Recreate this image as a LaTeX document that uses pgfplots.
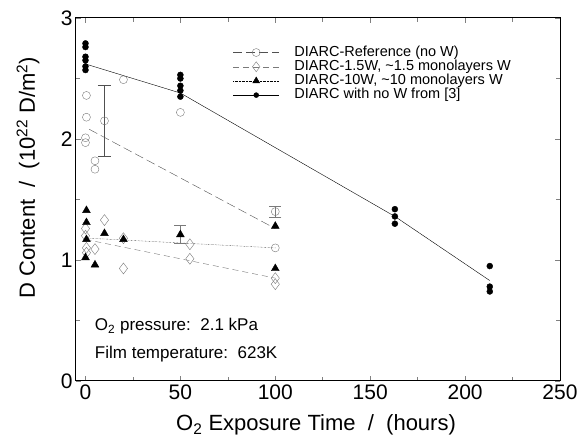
\documentclass[border=0pt]{standalone}
\usepackage{fontspec}
\setmainfont{Liberation Sans}
\usepackage{pgfplots}
\pgfplotsset{compat=1.18}
\definecolor{ptgray}{HTML}{7A7A7A}
\definecolor{ptdark}{HTML}{505050}
\newcommand\lgf{\fontsize{14.5}{15}\selectfont}

\begin{document}
\begin{tikzpicture}
\begin{axis}[
  width=484pt, height=363pt, scale only axis,
  xmin=-5, xmax=250, ymin=0, ymax=3,
  xtick={0,50,...,250}, ytick={0,1,2,3},
  minor xtick={25,75,...,225}, minor ytick={0.5,1.5,2.5},
  tick align=inside,
  major tick length=5pt, minor tick length=4pt,
  tick style={gray, line width=0.5pt},
  axis line style={line width=1pt},
  /pgf/number format/assume math mode=true,
  ticklabel style={font=\fontsize{21}{24}\selectfont},
  xlabel={O\textsubscript{2} Exposure Time \ / \ (hours)},
  ylabel={D Content \ / \ (10\textsuperscript{22} D/m\textsuperscript{2})},
  label style={font=\fontsize{22}{26}\selectfont},
  xlabel style={at={(axis description cs:0.496,-0.121)}, anchor=center},
  ylabel style={at={(axis description cs:-0.099,0.56)}, anchor=center},
  legend style={at={(0.324,0.925)}, anchor=north west, draw=none, fill=none,
    inner sep=0pt, row sep=0pt, font=\lgf,
    nodes={inner sep=0pt, text height=10.6pt, text depth=3.6pt}},
  legend cell align=left,
  legend image code/.code={\draw[mark repeat=2,mark phase=2,#1] plot coordinates {(0pt,0pt) (23pt,0pt) (46pt,0pt)};
    \path (61pt,0pt);},
]
% legend samples
\addlegendimage{ptdark, dash pattern=on 9pt off 4pt, mark=o, mark size=4pt, mark options={solid, ptgray}}
\addlegendimage{ptgray, dash pattern=on 6pt off 4pt, mark=diamond, mark size=5pt, mark options={solid}}
\addlegendimage{black, densely dotted, mark=triangle*, mark size=4pt, mark options={solid}}
\addlegendimage{black, thin, mark=*, mark size=2.5pt}
\legend{{\lgf DIARC-Reference (no W)}, {\lgf DIARC-1.5W, \textasciitilde 1.5 monolayers W}, {\lgf DIARC-10W, \textasciitilde 10 monolayers W}, {\lgf DIARC with no W from [3]}}

% fitted lines
\addplot[forget plot, ptdark, dash pattern=on 9pt off 4pt] coordinates {(2,2.08) (100,1.26)};
\addplot[forget plot, ptgray, dash pattern=on 6pt off 4pt] coordinates {(0,1.17) (100,0.85)};
\addplot[forget plot, black, densely dotted] coordinates {(2,1.18) (100,1.10)};
\addplot[forget plot, black, thin] coordinates {(0,2.62) (50,2.38) (163,1.36) (213,0.83)};

% DIARC-Reference (no W)
\addplot[forget plot, only marks, mark=o, mark size=4pt, ptgray] coordinates {
  (0.5,2.36) (0.5,2.18) (0,2.01) (0,1.97) (5,1.82) (5,1.75)
  (10,2.15) (20,2.49) (50,2.22) (100,1.40) (100,1.10)};
% DIARC-1.5W
\addplot[forget plot, only marks, mark=diamond, mark size=5.5pt, ptgray] coordinates {
  (0,1.26) (0,1.20) (0.5,1.10) (0.5,1.06) (5,1.09) (10,1.33)
  (20,1.18) (20,0.93) (55,1.13) (55,1.01) (100,0.85) (100,0.80)};
% DIARC-10W
\addplot[forget plot, only marks, mark=triangle*, mark size=4.5pt, black] coordinates {
  (0.5,1.41) (0.5,1.31) (0.5,1.17) (0,1.02) (5,0.96) (10,1.22)
  (20,1.17) (50,1.21) (100,1.28) (100,0.93)};
% DIARC with no W from [3]
\addplot[forget plot, only marks, mark=*, mark size=3pt, black] coordinates {
  (0,2.79) (0,2.76) (0,2.68) (0,2.65) (0,2.60) (0,2.57)
  (50,2.53) (50,2.50) (50,2.44) (50,2.40) (50,2.35)
  (163,1.42) (163,1.36) (163,1.30)
  (213,0.95) (213,0.78) (213,0.74)};

% error bars
\addplot[forget plot, draw=none, no markers, error bars/.cd, y dir=both, y explicit,
  error bar style={draw=ptdark, line width=0.8pt}, error mark options={rotate=90, draw=ptdark, mark size=6.5pt, line width=0.8pt}]
  coordinates {(10,2.15) +- (0,0.29)};
\addplot[forget plot, draw=none, no markers, error bars/.cd, y dir=both, y explicit,
  error bar style={draw=ptgray, line width=0.8pt}, error mark options={rotate=90, draw=ptgray, mark size=6pt, line width=0.8pt}]
  coordinates {(100,1.395) +- (0,0.045)};
\addplot[forget plot, draw=none, no markers, error bars/.cd, y dir=both, y explicit,
  error bar style={draw=ptgray, line width=0.8pt}, error mark options={rotate=90, draw=ptgray, mark size=6pt, line width=0.8pt}]
  coordinates {(50,1.215) +- (0,0.075)};

\node[anchor=west, inner sep=0pt, font=\fontsize{17}{20}\selectfont] at (axis cs:4.9,0.45) {O\textsubscript{2} pressure:\ \ 2.1 kPa};
\node[anchor=west, inner sep=0pt, font=\fontsize{17}{20}\selectfont] at (axis cs:4.9,0.22) {Film temperature:\ \ 623K};

\coordinate (bl) at (rel axis cs:0,0);
\coordinate (tr) at (rel axis cs:1,1);
\end{axis}
\path ([shift={(-76pt,-55pt)}]bl) rectangle ([shift={(21pt,18pt)}]tr);
\end{tikzpicture}
\end{document}
